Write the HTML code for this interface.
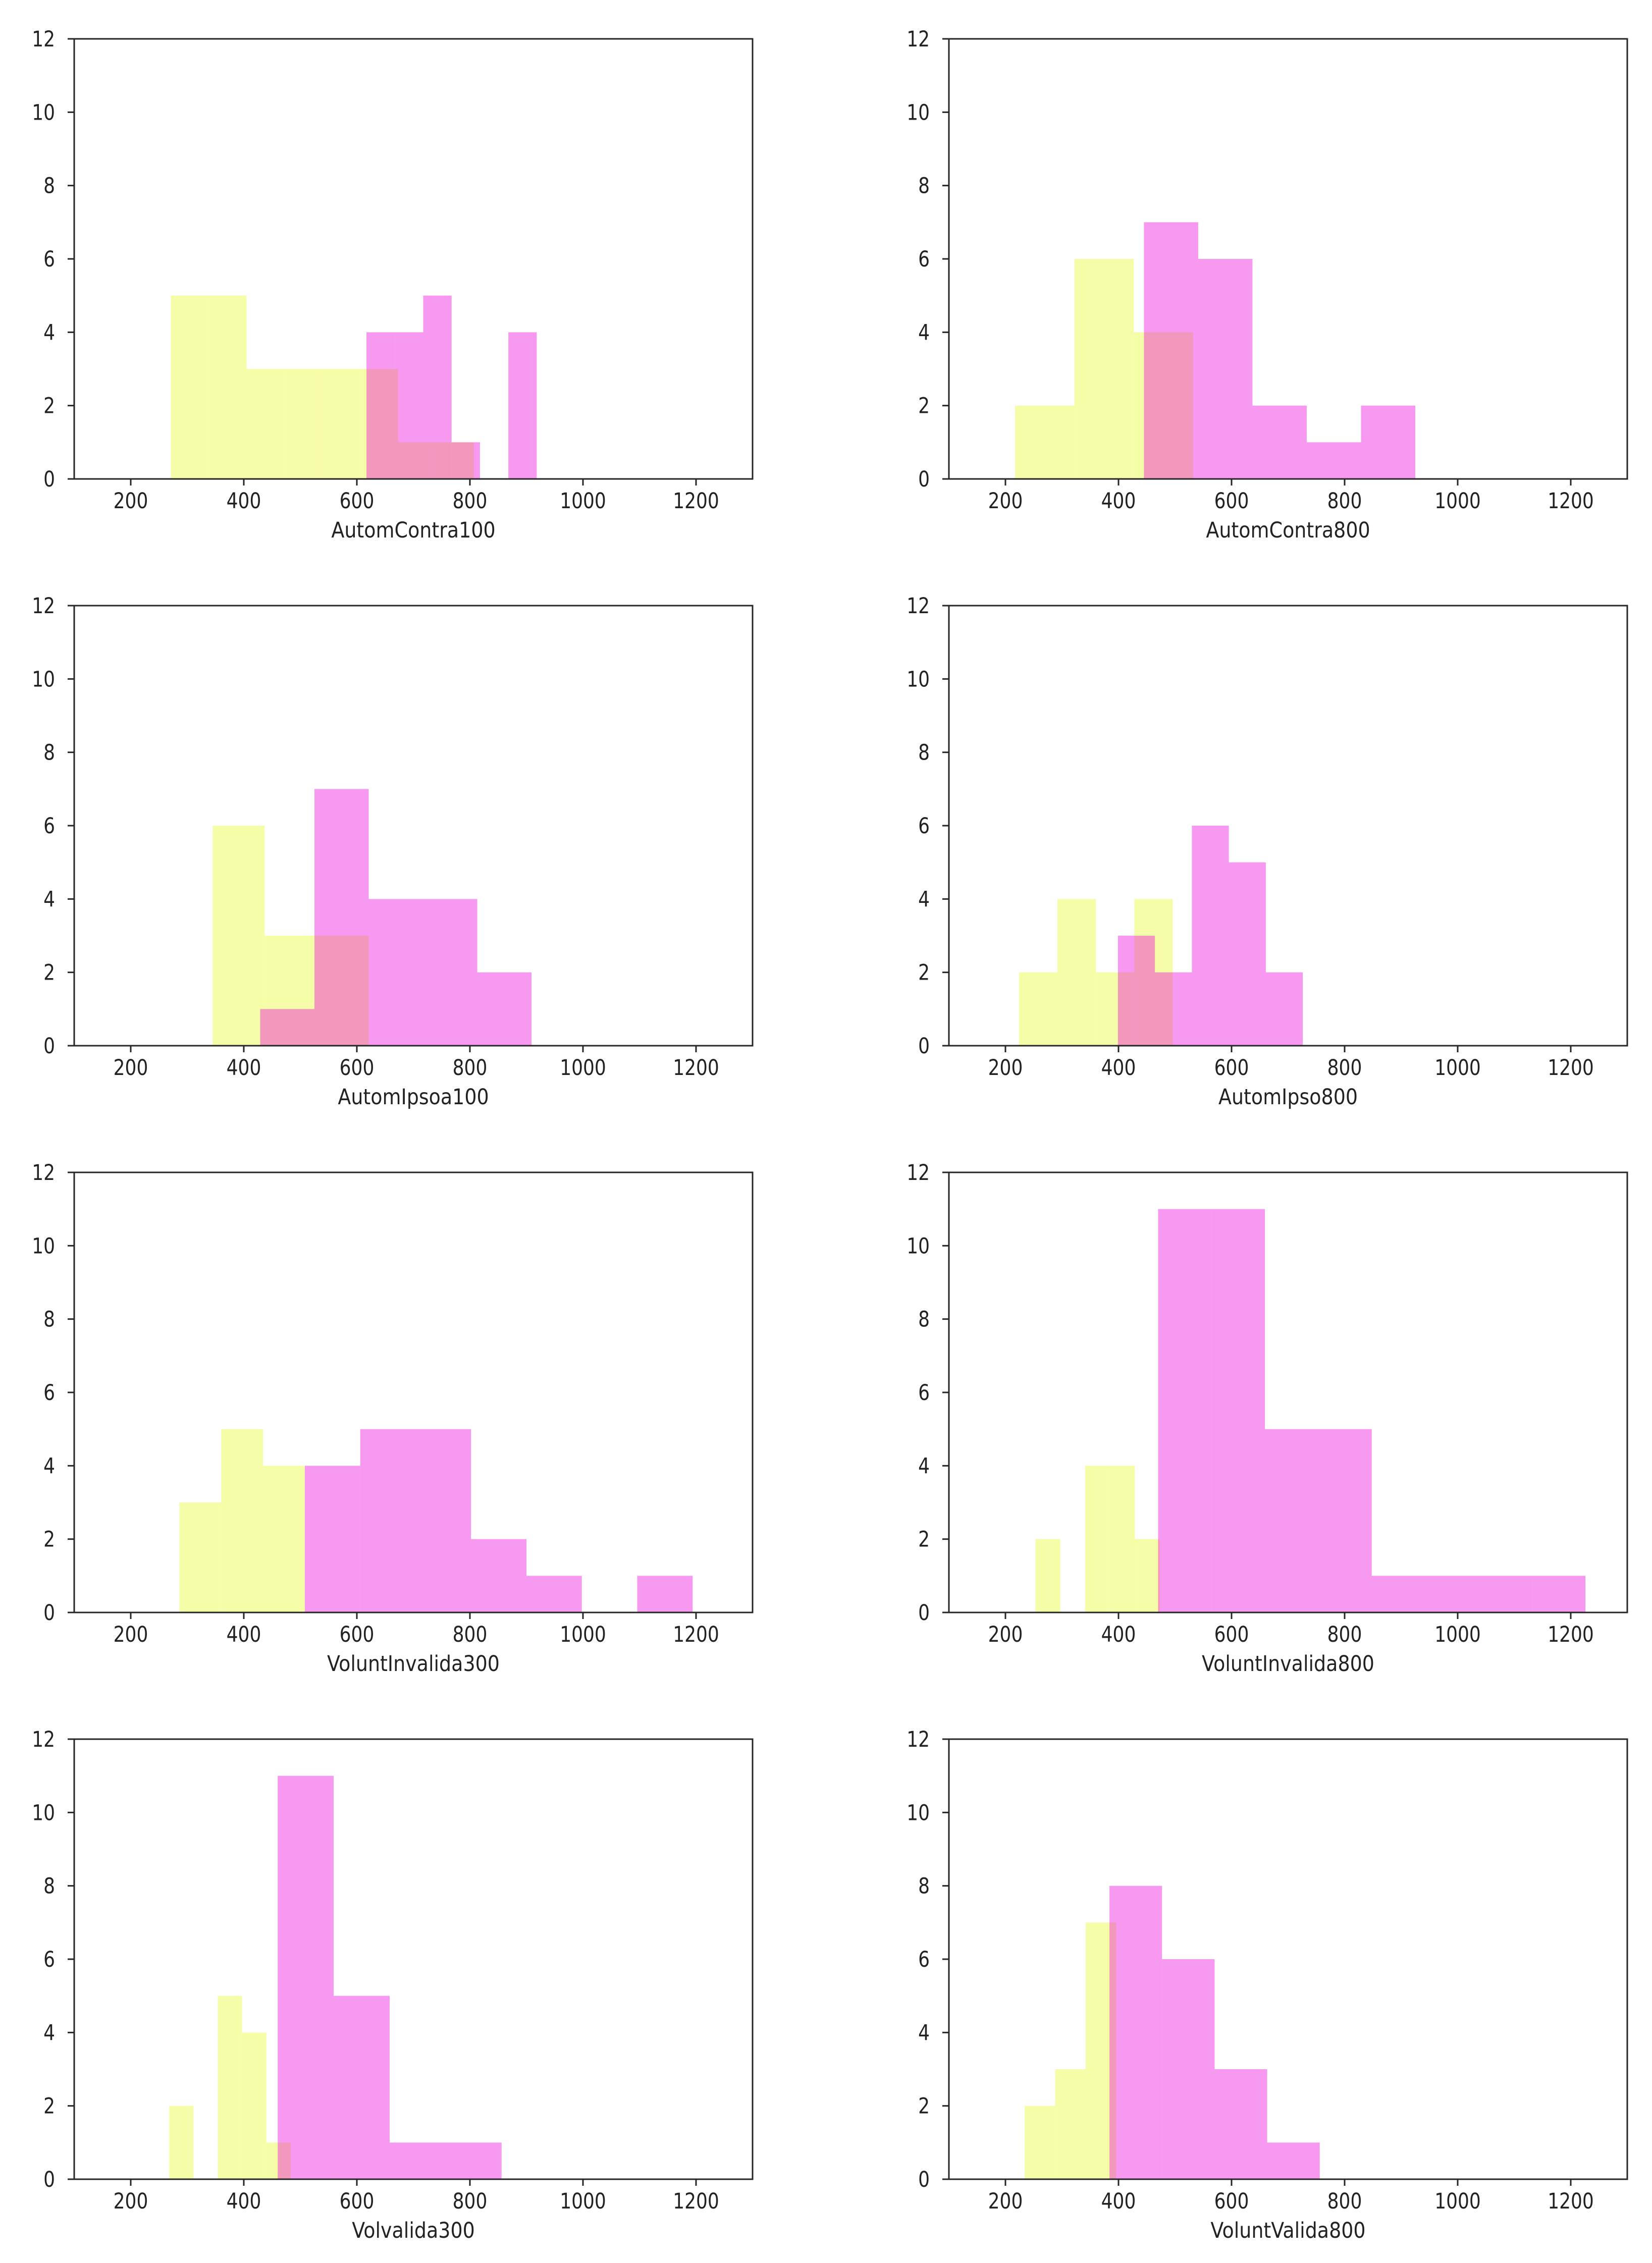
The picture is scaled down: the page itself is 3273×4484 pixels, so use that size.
<!DOCTYPE html>
<html><head><meta charset="utf-8"><style>
html,body{margin:0;padding:0;background:#fff}
svg{display:block}
text{font-family:"DejaVu Sans","Liberation Sans",sans-serif;fill:#222}
</style></head><body>
<svg id="fig" width="3273" height="4484" viewBox="0 0 3273 4484" xmlns="http://www.w3.org/2000/svg"></svg>
<script>
// Per-panel data: bin start, bin width, counts (yellow series drawn first, magenta on top)
const panelTitles = ["AutomContra100","AutomContra800","AutomIpsoa100","AutomIpso800","VoluntInvalida300","VoluntInvalida800","Volvalida300","VoluntValida800"];
const yellowStart = [271,217,345,224,286,253,268,234];
const yellowWidth = [67,105,92,68,74,44,43,54];
const yellowCounts = [
 [5,5,3,3,3,3,1,1],
 [2,6,4],
 [6,3,3],
 [2,4,2,4],
 [3,5,4],
 [2,0,4,4,2],
 [2,0,5,4,1],
 [2,3,7]
];
const magentaStart = [617,445,429,399,508,470,460,384];
const magentaWidth = [50.2,96,96,65.4,98,94.5,99,93];
const magentaCounts = [
 [4,4,5,1,0,4],
 [7,6,2,1,2],
 [1,7,4,4,2],
 [3,2,6,5,2],
 [4,5,5,2,1,0,1],
 [11,11,5,5,1,1,1,1],
 [11,5,1,1],
 [8,6,3,1]
];
const xTicks = [200,400,600,800,1000,1200];
const yTicks = [0,2,4,6,8,10,12];
const xDomain = [100,1300];
const yDomain = [0,12];

const NS="http://www.w3.org/2000/svg";
const svg=document.getElementById('fig');
const colLeft=[147,1880], rowTop=[77,1200,2323,3446], W=1344, H=872;
function mk(tag,attrs,parent){const e=document.createElementNS(NS,tag);for(const k in attrs)e.setAttribute(k,attrs[k]);parent.appendChild(e);return e;}

panelTitles.forEach((title,p)=>{
  const L=colLeft[p%2], T=rowTop[Math.floor(p/2)], B=T+H;
  const sx=v=>L+(v-xDomain[0])/(xDomain[1]-xDomain[0])*W;
  const sy=v=>B-(v-yDomain[0])/(yDomain[1]-yDomain[0])*H;
  const g=mk('g',{},svg);
  
  
  const drawSeries=(start,width,counts,fill,name)=>{
    counts.forEach((c,i)=>{
      if(c<=0)return;
      const x0=sx(start+i*width), x1=sx(start+(i+1)*width);
      const r=mk('rect',{x:x0,y:sy(c),width:x1-x0,height:sy(0)-sy(c),fill:fill},g);
      
      
    });
  };
  drawSeries(yellowStart[p],yellowWidth[p],yellowCounts[p],'rgba(230,248,0,0.34)','yellow');
  drawSeries(magentaStart[p],magentaWidth[p],magentaCounts[p],'rgba(238,0,220,0.4)','magenta');
  const frame=mk('rect',{x:L,y:T,width:W,height:H,fill:'none',stroke:'#262626','stroke-width':3},g);
  
  
  xTicks.forEach(t=>{
    const x=sx(t);
    mk('line',{x1:x,y1:B,x2:x,y2:B+13,stroke:'#262626','stroke-width':3},g);
    const tx=mk('text',{x:0,y:0,'text-anchor':'middle','font-size':36,transform:`translate(${x},${B+58}) scale(1,1.18)`},g);
    tx.textContent=t;
    
    
  });
  yTicks.forEach(t=>{
    const y=sy(t);
    mk('line',{x1:L-13,y1:y,x2:L,y2:y,stroke:'#262626','stroke-width':3},g);
    const ty=mk('text',{x:0,y:0,'text-anchor':'end','font-size':36,transform:`translate(${L-38},${y+15}) scale(1,1.18)`},g);
    ty.textContent=t;
    
    
  });
  const xl=mk('text',{x:0,y:0,'text-anchor':'middle','font-size':38,transform:`translate(${L+W/2},${B+116}) scale(1,1.12)`},g);
  xl.textContent=title;
  
  
});
</script>
</body></html>
